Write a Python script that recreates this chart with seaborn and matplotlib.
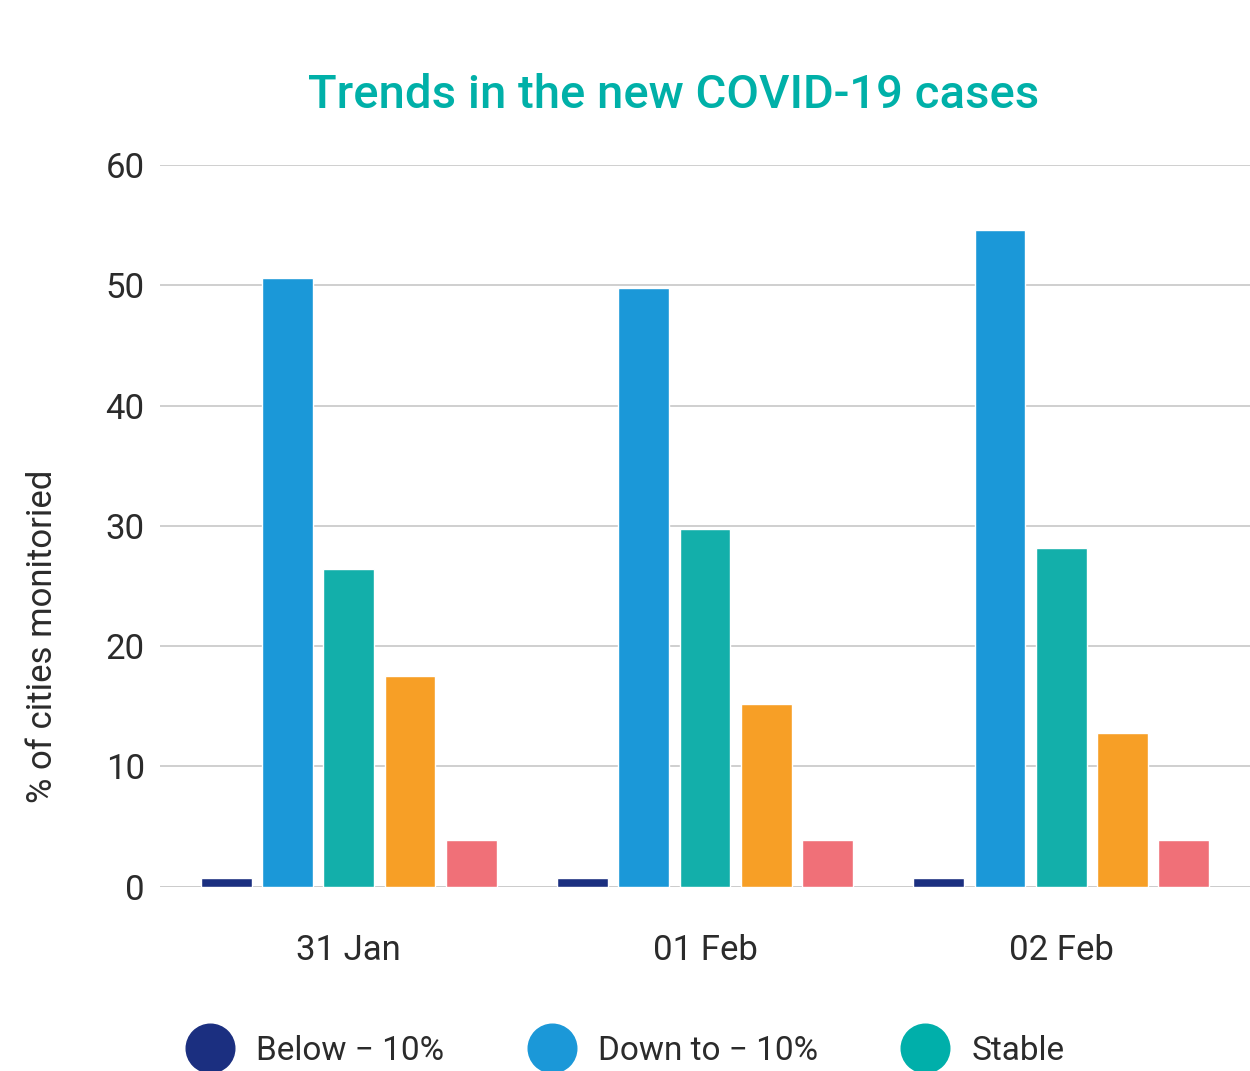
import pandas as pd
import matplotlib
matplotlib.use('Agg')
import matplotlib.pyplot as plt
from matplotlib.lines import Line2D
import seaborn as sns

# --- Data ---
dates = ['31 Jan', '01 Feb', '02 Feb']
trend_labels = ['Below \u2212 10%', 'Down to \u2212 10%', 'Stable', 'Up to + 10%', 'Above + 10%']
below_10 = [0.75, 0.75, 0.75]
down_to_10 = [50.6, 49.8, 54.6]
stable = [26.4, 29.7, 28.2]
up_to_10 = [17.5, 15.2, 12.8]
above_10 = [3.9, 3.9, 3.9]
y_ticks = [0, 10, 20, 30, 40, 50, 60]

COLORS = ['#1B2F80', '#1B98D8', '#13AFAA', '#F79F26', '#F07078']
LEGEND_COLORS = ['#1B2F80', '#1B98D8', '#00AFAA']
TITLE_COLOR = '#00B0A8'
TEXT_COLOR = '#2b2b2b'

series = [below_10, down_to_10, stable, up_to_10, above_10]
df = pd.DataFrame(
    [(d, lab, v) for lab, vals in zip(trend_labels, series) for d, v in zip(dates, vals)],
    columns=['date', 'trend', 'pct'],
)

sns.set_theme(style='white')
plt.rcParams['font.family'] = ['Roboto', 'DejaVu Sans']

fig = plt.figure(figsize=(12.5, 10.71), dpi=100)
ax = fig.add_axes([0.128, 0.172, 0.872, 0.674])

sns.barplot(data=df, x='date', y='pct', hue='trend', order=dates, hue_order=trend_labels,
            palette=COLORS, width=0.86, gap=0.17, saturation=1, ax=ax, legend=False)

ax.set_xlim(-0.53, 2.53)
ax.set_ylim(0, 60)
ax.set_yticks(y_ticks)
ax.yaxis.grid(True, color='#cccccc', linewidth=1.3)
ax.set_axisbelow(True)
for s in ax.spines.values():
    s.set_visible(False)
ax.axhline(0, color='#c8c8c8', linewidth=1.8, zorder=0)

ax.tick_params(axis='y', length=0, pad=11, labelsize=25, labelcolor=TEXT_COLOR)
ax.tick_params(axis='x', length=0, pad=34, labelsize=25, labelcolor=TEXT_COLOR)
ax.set_xlabel('')
ax.set_ylabel('')

fig.text(0.539, 0.911, 'Trends in the new COVID-19 cases', ha='center', va='center',
         fontsize=34, fontweight='medium', color=TITLE_COLOR)
fig.text(0.034, 0.406, '% of cities monitoried', rotation=90, ha='center', va='center',
         fontsize=25, color=TEXT_COLOR)

# Legend (only the first three entries fit on the canvas)
handles = [Line2D([0], [0], marker='o', linestyle='', markersize=35,
                  markerfacecolor=c, markeredgecolor=c) for c in LEGEND_COLORS]
fig.legend(handles, trend_labels[:3], loc='center left', bbox_to_anchor=(0.125, 0.019),
           ncol=3, frameon=False, fontsize=24, handlelength=1.45, handletextpad=0.65,
           columnspacing=2.5, labelcolor=TEXT_COLOR)

fig.savefig('out.png', dpi=100, facecolor='white')
